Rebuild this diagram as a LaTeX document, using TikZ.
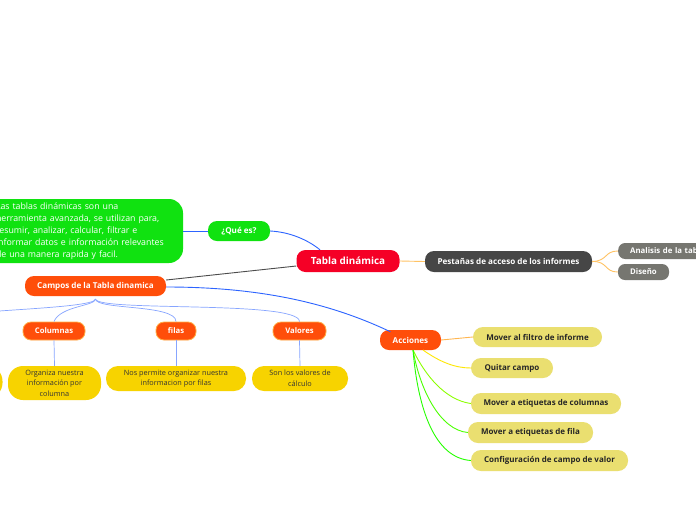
\documentclass[tikz,border=0pt]{standalone}
\usepackage{fontspec}
\setmainfont{Open Sans}
\definecolor{cRed}{RGB}{245,0,38}
\definecolor{cGreen}{RGB}{16,226,16}
\definecolor{cOrange}{RGB}{255,78,10}
\definecolor{cOrBorder}{RGB}{255,175,70}
\definecolor{cYellow}{RGB}{247,211,0}
\definecolor{cKhaki}{RGB}{234,223,112}
\definecolor{cDark}{RGB}{70,70,70}
\definecolor{cGray}{RGB}{118,118,112}
\definecolor{cBlue}{RGB}{45,100,255}
\definecolor{cLBlue}{RGB}{135,165,255}
\definecolor{cLOrange}{RGB}{255,195,100}
\tikzset{
  pill/.style={rounded corners=#1, inner sep=0pt, align=center},
  mainbox/.style={pill=9, fill=cRed, text=white, font=\fontsize{9.9}{11}\selectfont\bfseries},
  lvlone/.style={pill=9, text=white, font=\fontsize{8.1}{9}\selectfont\bfseries},
  subor/.style={pill=8, fill=cOrange, draw=cOrBorder, line width=0.8pt, text=white, font=\fontsize{7.7}{9}\selectfont\bfseries},
  yelbox/.style={pill=12, fill=cYellow, text=black!80, font=\fontsize{7.3}{10.5}\selectfont},
  khaki/.style={pill=10, fill=cKhaki, text=black!85, font=\fontsize{8}{9}\selectfont\bfseries},
  grayb/.style={pill=7, fill=cGray, text=white, font=\fontsize{7.8}{9}\selectfont\bfseries},
  conn/.style={line width=0.9pt},
  thin/.style={line width=0.7pt, cLBlue},
}
\begin{document}
\begin{tikzpicture}[x=1pt,y=-1pt]
\useasboundingbox (0,0) rectangle (696,520);
\fill[white] (0,0) rectangle (696,520);

% nodes
\node[mainbox, minimum width=103, minimum height=22] (main) at (348,261) {Tabla dinámica};
\node[lvlone, fill=cGreen, minimum width=62, minimum height=20] (que) at (239,231) {¿Qué es?};
\node[rounded corners=14, fill=cGreen, text=white, text width=176, inner xsep=11, minimum height=64, align=left,
      font=\fontsize{8.8}{12}\selectfont] (def) at (84,231)
  {Las tablas dinámicas son una\\herramienta avanzada, se utilizan para,\\resumir, analizar, calcular, filtrar e\\informar datos e información relevantes\\de una manera rapida y facil.};
\node[lvlone, fill=cOrange, minimum width=141, minimum height=20] (campos) at (95.5,286) {Campos de la Tabla dinamica};
\node[lvlone, fill=cDark, minimum width=167, minimum height=21] (pest) at (508.5,261.5) {Pestañas de acceso de los informes};
\node[grayb, minimum height=16, anchor=west, text width=128, inner xsep=12, align=left] (anal) at (618,251) {Analisis de la tabla dinámica};
\node[grayb, minimum width=51, minimum height=16] (dis) at (643.5,272) {Diseño};
\node[lvlone, fill=cOrange, minimum width=61, minimum height=20] (acc) at (410.5,340) {Acciones};

\node[subor, minimum width=62, minimum height=18] (col) at (54,331) {Columnas};
\node[subor, minimum width=40, minimum height=18] (fil) at (176,331) {filas};
\node[subor, minimum width=53, minimum height=18] (val) at (299.5,331) {Valores};
\node[subor, minimum width=62, minimum height=18] (extra) at (-70,331) {};

\node[yelbox, minimum width=93, minimum height=34, pill=15] (orgtxt) at (54.5,383) {Organiza nuestra\\información por\\columna};
\node[yelbox, minimum width=140, minimum height=25] (nostxt) at (176,378.5) {Nos permite organizar nuestra\\informacion por filas};
\node[yelbox, minimum width=96, minimum height=25] (sontxt) at (300,378.5) {Son los valores de\\cálculo};
\node[yelbox, minimum width=93, minimum height=32, pill=15] (extratxt) at (-44,382) {};

\node[khaki, minimum width=129, minimum height=20] (a1) at (537.5,337) {Mover al filtro de informe};
\node[khaki, minimum width=82, minimum height=20] (a2) at (512,368) {Quitar campo};
\node[khaki, minimum width=150, minimum height=21] (a3) at (546,403.5) {Mover a etiquetas de columnas};
\node[khaki, minimum width=125, minimum height=21] (a4) at (530.5,432.5) {Mover a etiquetas de fila};
\node[khaki, minimum width=157, minimum height=21] (a5) at (549.5,460.5) {Configuración de campo de valor};

% connectors
\draw[conn, cBlue] (def.east) -- (que.west);
\draw[conn, cBlue] (que.east) .. controls (290,232) and (308,240) .. ([xshift=-28]main.north);
\draw[conn, black!70] ([yshift=-5]main.west) -- ([yshift=6]campos.east);
\draw[conn, cBlue] ([yshift=-1]campos.east) .. controls (260,287) and (330,303) .. ([xshift=-20,yshift=-2]acc.north);
\draw[conn, cLOrange] (main.east) -- (pest.west);
\draw[conn, cLOrange] (pest.east) .. controls (608,261) and (604,251) .. (anal.west);
\draw[conn, cLOrange] (pest.east) .. controls (608,261) and (604,272) .. (dis.west);

\coordinate (cb) at (95.5,299);
\draw[thin] (cb) .. controls (95.5,306) and (60,306) .. (col.north);
\draw[thin] (cb) .. controls (95.5,310) and (176,304) .. (fil.north);
\draw[thin] (cb) .. controls (97,312) and (299.5,300) .. (val.north);
\draw[thin] (cb) .. controls (95.5,310) and (-70,310) .. (extra.north);
\draw[thin] (col.south) -- (orgtxt.north);
\draw[thin] (fil.south) -- (nostxt.north);
\draw[thin] (val.south) -- (sontxt.north);
\draw[thin] (extra.south) -- (extratxt.north);

\coordinate (ab) at (413,350);
\draw[conn, cLOrange!80!orange] (acc.east) -- (a1.west);
\draw[conn, yellow!90!orange] ([xshift=10]ab) .. controls (440,362) and (455,368) .. (a2.west);
\draw[conn, green!45!yellow] (ab) .. controls (425,375) and (445,400) .. (a3.west);
\draw[conn, green!70!yellow] (ab) .. controls (420,390) and (440,430) .. (a4.west);
\draw[conn, green!85!yellow] (ab) .. controls (418,410) and (435,458) .. (a5.west);
\end{tikzpicture}
\end{document}
